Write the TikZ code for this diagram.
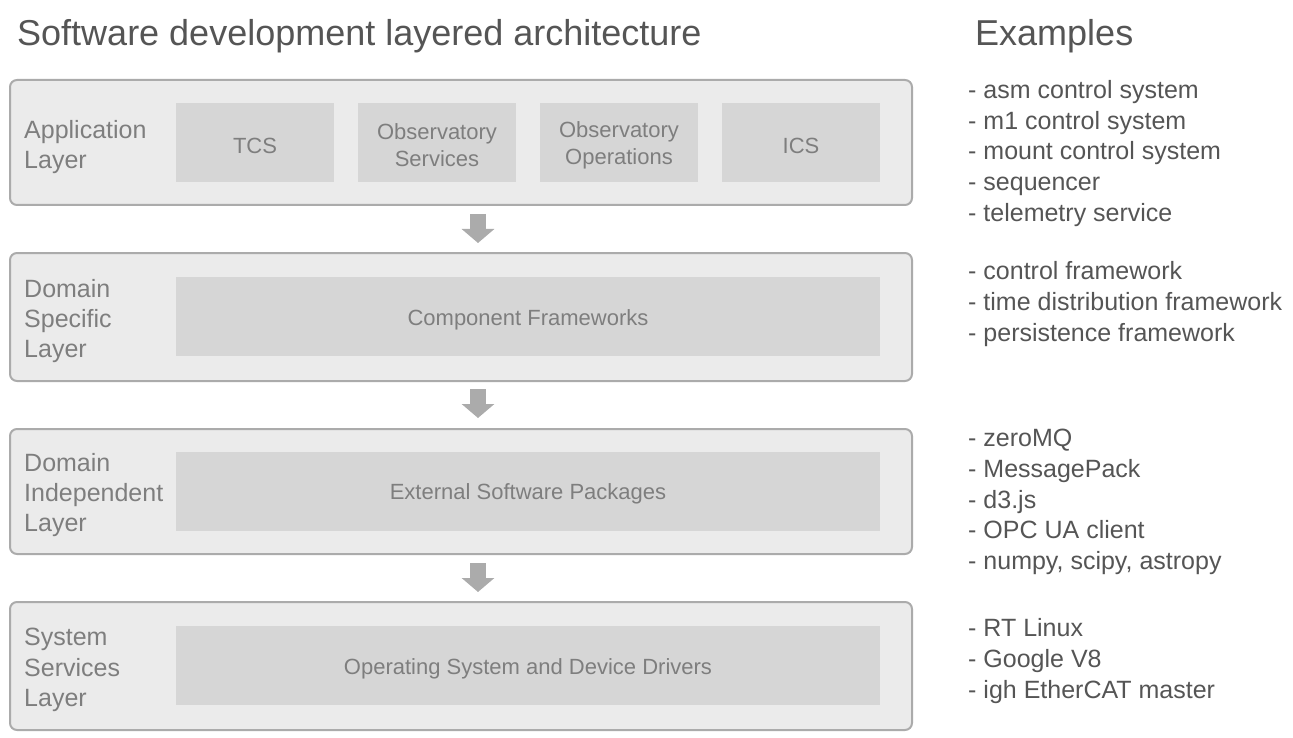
\documentclass[tikz,border=0pt]{standalone}
\usepackage{fontspec}
\setmainfont{Liberation Sans}
\usetikzlibrary{arrows.meta,positioning}
\definecolor{layerfill}{HTML}{EBEBEB}
\definecolor{layerline}{HTML}{ABABAB}
\definecolor{partfill}{HTML}{D6D6D6}
\definecolor{labeltext}{HTML}{7E7E7E}
\definecolor{listtext}{HTML}{555555}

\tikzset{
  layerbox/.style={draw=layerline, fill=layerfill, line width=2pt, rounded corners=7pt,
    minimum width=902pt, inner sep=0pt},
  partbox/.style={fill=partfill, minimum height=79pt, inner sep=0pt},
  parttext/.style={text=labeltext, font=\fontsize{22}{27}\selectfont, align=center,
    inner sep=0pt, yshift=-3pt},
  layername/.style={anchor=west, align=left, text=labeltext, inner sep=0pt,
    font=\fontsize{25}{30.3}\selectfont},
  examplelist/.style={anchor=west, align=left, text=listtext, inner sep=0pt,
    font=\fontsize{25}{30.8}\selectfont},
  downarrow/.style={draw=layerline, line width=16pt,
    -{Triangle[width=32pt,length=14pt]}}
}

\begin{document}
\begin{tikzpicture}[x=1pt,y=-1pt]
\useasboundingbox (0,0) rectangle (1293,738);

% headings
\node[anchor=base west, inner sep=0pt, text=listtext, font=\fontsize{36}{40}\selectfont] (title) at (17,46) {Software development layered architecture};
\node[anchor=base west, inner sep=0pt, text=listtext, font=\fontsize{36}{40}\selectfont] (exhead) at (975,46) {Examples};

% layers
\node[layerbox, minimum height=125pt] (app) at (461,142.5) {};
\node[layerbox, minimum height=128pt] (dom) at (461,317) {};
\node[layerbox, minimum height=125pt] (ind) at (461,491.5) {};
\node[layerbox, minimum height=128pt] (sys) at (461,666) {};

\node[layername] (appname) at (24,147) {Application\\Layer};
\node[layername] (domname) at (24,321) {Domain\\Specific\\Layer};
\node[layername] (indname) at (24,495) {Domain\\Independent\\Layer};
\node[layername] (sysname) at (24,670) {System\\Services\\Layer};

% parts of the layers
\node[partbox, minimum width=158pt, label={[parttext]center:TCS}] (tcs) at (255,142.5) {};
\node[partbox, minimum width=158pt, label={[parttext]center:Observatory\\Services}] (obsserv) at (437,142.5) {};
\node[partbox, minimum width=158pt, label={[parttext]center:Observatory\\Operations}] (obsops) at (619,142.5) {};
\node[partbox, minimum width=158pt, label={[parttext]center:ICS}] (ics) at (801,142.5) {};
\node[partbox, minimum width=704pt, label={[parttext]center:Component Frameworks}] (compfw) at (528,316.5) {};
\node[partbox, minimum width=704pt, label={[parttext]center:External Software Packages}] (extsw) at (528,491) {};
\node[partbox, minimum width=704pt, label={[parttext]center:Operating System and Device Drivers}] (osdrv) at (528,665.5) {};

% arrows between layers
\draw[downarrow] ([xshift=17pt,yshift=-8pt]app.south) -- ([xshift=17pt,yshift=9pt]dom.north);
\draw[downarrow] ([xshift=17pt,yshift=-7pt]dom.south) -- ([xshift=17pt,yshift=10pt]ind.north);
\draw[downarrow] ([xshift=17pt,yshift=-8pt]ind.south) -- ([xshift=17pt,yshift=9pt]sys.north);

% examples
\node[examplelist] (appex) at (968,153.5) {- asm control system\\- m1 control system\\- mount control system\\- sequencer\\- telemetry service};
\node[examplelist] (domex) at (968,304) {- control framework\\- time distribution framework\\- persistence framework};
\node[examplelist] (index) at (968,502) {- zeroMQ\\- MessagePack\\- d3.js\\- OPC UA client\\- numpy, scipy, astropy};
\node[examplelist] (sysex) at (968,661) {- RT Linux\\- Google V8\\- igh EtherCAT master};
\end{tikzpicture}
\end{document}
